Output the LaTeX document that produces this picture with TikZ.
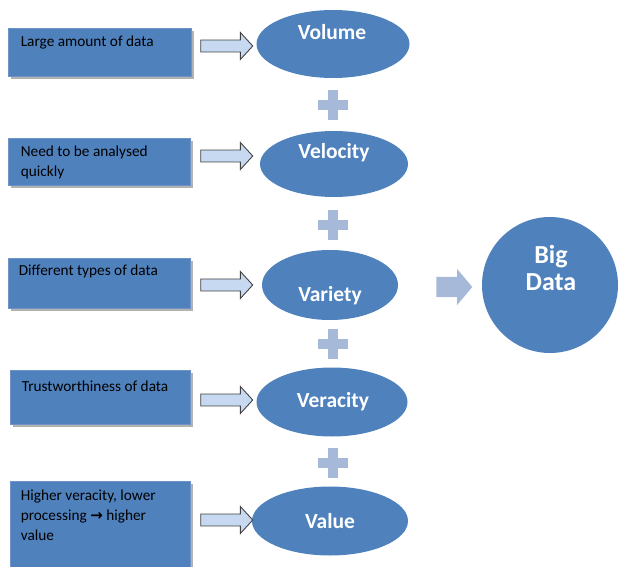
\documentclass[tikz,border=0pt]{standalone}
\usepackage{fontspec}
\setmainfont{Carlito}
\newfontfamily\symf{DejaVu Sans}
\usetikzlibrary{shapes.arrows,shapes.geometric,shadows,calc}
\definecolor{offblue}{HTML}{4F81BD}
\definecolor{offedge}{HTML}{6F93C6}
\definecolor{plusblue}{HTML}{A7B9D9}
\definecolor{harrowfill}{HTML}{C6D9F1}
\definecolor{harrowdraw}{HTML}{404040}
\tikzset{
  infobox/.style={rectangle, fill=offblue, draw=offedge, line width=0.8pt, inner sep=0pt,
    drop shadow={shadow xshift=2.5pt, shadow yshift=-3pt, fill=black, opacity=0.3}},
  infotext/.style={anchor=north west, inner sep=0pt, align=left, text=black,
    font=\fontsize{15.3}{20}\selectfont},
  vbubble/.style={ellipse, fill=offblue, inner sep=0pt},
  vtext/.style={text=white, font=\bfseries\fontsize{21.5}{24}\selectfont, inner sep=0pt},
  harrow/.style={single arrow, draw=harrowdraw, fill=harrowfill, line width=0.9pt,
    minimum height=52pt, minimum width=27pt, inner sep=5.5pt, single arrow head extend=7.5pt,
    single arrow tip angle=95},
  bigarrow/.style={single arrow, fill=plusblue, draw=none, minimum height=36pt,
    minimum width=36pt, inner sep=10pt, single arrow head extend=8pt, single arrow tip angle=100},
  pics/plussign/.style={code={
    \fill[plusblue] (-15,-5) rectangle (15,5);
    \fill[plusblue] (-5,-15) rectangle (5,15);}}
}
\begin{document}
\begin{tikzpicture}[x=1pt,y=-1pt]
\useasboundingbox (0,0) rectangle (619,567);
% boxes
\node[infobox, minimum width=183pt, minimum height=48pt] (b1) at (99.5,52) {};
\node[infobox, minimum width=182pt, minimum height=47pt] (b2) at (99,161.5) {};
\node[infobox, minimum width=182pt, minimum height=50pt] (b3) at (99,283) {};
\node[infobox, minimum width=180pt, minimum height=54pt] (b4) at (100,397) {};
\node[infobox, minimum width=180pt, minimum height=90pt] (b5) at (100,526) {};
\node[infotext] (t1) at ($(b1.north west)+(13,8)$) {Large amount of data};
\begin{scope}
\clip (b2.south west) rectangle (b2.north east);
\node[infotext] (t2) at ($(b2.north west)+(13,8)$) {Need to be analysed\\quickly};
\end{scope}
\node[infotext] (t3) at ($(b3.north west)+(11,7)$) {Different types of data};
\node[infotext] (t4) at ($(b4.north west)+(12,11)$) {Trustworthiness of data};
\node[infotext] (t5) at ($(b5.north west)+(11,9)$) {Higher veracity, lower\\processing {\symf\bfseries\fontsize{15}{20}\selectfont →} higher\\value};
% ellipses
\node[vbubble, minimum width=153pt, minimum height=68pt] (e1) at (333,44) {};
\node[vbubble, minimum width=148pt, minimum height=66pt] (e2) at (334,164) {};
\node[vbubble, minimum width=136pt, minimum height=70pt] (e3) at (330,285) {};
\node[vbubble, minimum width=151pt, minimum height=69pt] (e4) at (332,402) {};
\node[vbubble, minimum width=156pt, minimum height=69pt] (e5) at (330,521) {};
\node[vtext] (l1) at (332,32) {Volume};
\node[vtext] (l2) at (334,153) {Velocity};
\node[vtext] (l3) at (330,296) {Variety};
\node[vtext] (l4) at (333,402) {Veracity};
\node[vtext] (l5) at (330,521) {Value};
% hollow arrows
\node[harrow] (a1) at (224,46) {};
\node[harrow] (a2) at (224,156) {};
\node[harrow] (a3) at (224,285) {};
\node[harrow] (a4) at (224,400) {};
\node[harrow] (a5) at (224,520) {};
% plus signs
\pic at (333,105) {plussign};
\pic at (333,225) {plussign};
\pic at (333,344) {plussign};
\pic at (333,463) {plussign};
% big data
\node[bigarrow] (ba) at (450,287) {};
\node[circle, fill=offblue, minimum size=136pt, inner sep=0pt] (bd) at (550,285) {};
\node[vtext, align=center, font=\bfseries\fontsize{26}{27}\selectfont] (bdt) at (551,268) {Big\\Data};
\end{tikzpicture}
\end{document}
